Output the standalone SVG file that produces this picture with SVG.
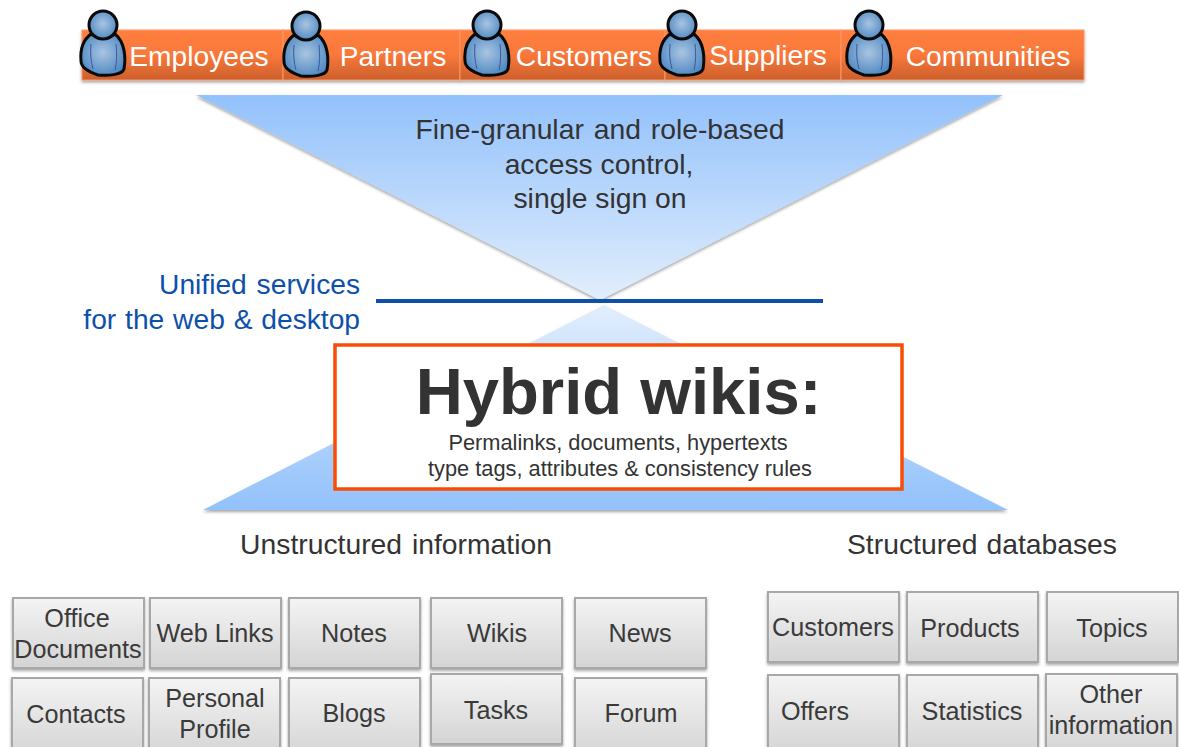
<svg xmlns="http://www.w3.org/2000/svg" width="1179" height="747" viewBox="0 0 1179 747">
<style>
text{font-family:"Liberation Sans",Arial,sans-serif;text-anchor:middle;fill:#333}
.o{fill:url(#og);stroke:#f79a6a;stroke-width:1}
.ol{fill:#fff;font-size:28.2px;stroke:none}
.b{fill:url(#bg);stroke:#a8a8a8;stroke-width:2;filter:url(#sh)}
.bt{font-size:25.2px;fill:#3a3a3a}
.m{font-size:28.3px}
.u{font-size:28.2px;fill:#0d50ac;text-anchor:end}
</style>
<defs>
<linearGradient id="og" x1="0" y1="0" x2="0" y2="1"><stop offset="0" stop-color="#ff7f40"/><stop offset=".5" stop-color="#f9783a"/><stop offset="1" stop-color="#cc5f2c"/></linearGradient>
<linearGradient id="bg" x1="0" y1="0" x2="0" y2="1"><stop offset="0" stop-color="#f4f4f4"/><stop offset="1" stop-color="#d4d4d4"/></linearGradient>
<linearGradient id="t1" gradientUnits="userSpaceOnUse" x1="0" y1="95" x2="0" y2="300"><stop offset="0" stop-color="#92c1fb"/><stop offset="1" stop-color="#e2eefd"/></linearGradient>
<linearGradient id="t2" gradientUnits="userSpaceOnUse" x1="0" y1="305" x2="0" y2="510"><stop offset="0" stop-color="#e2eefd"/><stop offset="1" stop-color="#92c1fb"/></linearGradient>
<radialGradient id="pg" cx=".5" cy=".45" r=".6"><stop offset="0" stop-color="#a9c4e2"/><stop offset="1" stop-color="#4b86c0"/></radialGradient>
<filter id="sh" x="-10%" y="-10%" width="120%" height="125%"><feDropShadow dx="0" dy="2" stdDeviation="1.5" flood-color="#000" flood-opacity=".35"/></filter>
<symbol id="person" overflow="visible">
<path d="M11 34 C3 40 0 50 1 61 C1 67 6 71 18 75 C28 76 42 75 44 69 C46 58 45 42 35 34 C28 39 18 39 11 34Z" fill="url(#pg)" stroke="#0a0a0a" stroke-width="3"/>
<path d="M11 44 C10 53 11 62 13 69 M36 44 C37 53 37 62 35 70" fill="none" stroke="#3b5a9a" stroke-width="1"/>
<circle cx="23" cy="25" r="14" fill="url(#pg)" stroke="#0a0a0a" stroke-width="3"/>
</symbol>
</defs>
<g id="funnel-top"><polygon points="196,95 1003,95 600,300" fill="url(#t1)" filter="url(#sh)"/></g>
<g id="funnel-bottom"><polygon points="604,305 1008,510 203,510" fill="url(#t2)" filter="url(#sh)"/></g>
<g id="bar" filter="url(#sh)">
<rect class="o" x="82" y="30" width="201" height="50"/>
<rect class="o" x="283" y="30" width="177" height="50"/>
<rect class="o" x="460" y="30" width="205" height="50"/>
<rect class="o" x="665" y="30" width="176" height="50"/>
<rect class="o" x="841" y="30" width="243" height="50"/>
</g>
<g id="employees"><use href="#person" x="80" y="0"/><text class="ol" x="199" y="66">Employees</text></g>
<g id="partners"><use href="#person" x="283" y="1"/><text class="ol" x="393" y="66">Partners</text></g>
<g id="customers-role"><use href="#person" x="464" y="0"/><text class="ol" x="584" y="66">Customers</text></g>
<g id="suppliers"><use href="#person" x="659" y="0"/><text class="ol" x="768" y="65">Suppliers</text></g>
<g id="communities"><use href="#person" x="846" y="0"/><text class="ol" x="988" y="66">Communities</text></g>
<g id="access"><text class="m" x="600" y="139" word-spacing="2">Fine-granular and role-based</text><text class="m" x="599" y="174">access control,</text><text class="m" x="600" y="208">single sign on</text></g>
<g id="connectors"><line x1="376" y1="301" x2="823" y2="301" stroke="#0d50ac" stroke-width="4"/></g>
<g id="unified"><text class="u" x="360" y="294" word-spacing="2">Unified services</text><text class="u" x="360" y="329" word-spacing="1">for the web &amp; desktop</text></g>
<g id="hybrid"><rect x="335" y="345" width="567" height="144" fill="#fff" stroke="#f94d05" stroke-width="3.5"/>
<text x="618.5" y="414" font-size="65.2" font-weight="bold">Hybrid wikis:</text>
<text x="618" y="450" font-size="21.8" fill="#444">Permalinks, documents, hypertexts</text>
<text x="620" y="476" font-size="21.8" fill="#444">type tags, attributes &amp; consistency rules</text></g>
<g id="labels"><text class="m" x="396" y="554" word-spacing="2">Unstructured information</text><text class="m" x="982" y="554" word-spacing="1">Structured databases</text></g>
<g id="office"><rect class="b" x="13" y="598" width="131" height="70"/><text class="bt" x="77" y="627">Office</text><text class="bt" x="78" y="658">Documents</text></g>
<g id="weblinks"><rect class="b" x="150" y="598" width="131" height="70"/><text class="bt" x="215" y="642">Web Links</text></g>
<g id="notes"><rect class="b" x="289" y="598" width="131" height="70"/><text class="bt" x="354" y="642">Notes</text></g>
<g id="wikis"><rect class="b" x="431" y="598" width="131" height="70"/><text class="bt" x="497" y="642">Wikis</text></g>
<g id="news"><rect class="b" x="575" y="598" width="131" height="70"/><text class="bt" x="640" y="642">News</text></g>
<g id="contacts"><rect class="b" x="12" y="678" width="131" height="80"/><text class="bt" x="76" y="723">Contacts</text></g>
<g id="profile"><rect class="b" x="149" y="678" width="131" height="80"/><text class="bt" x="215" y="707">Personal</text><text class="bt" x="215" y="738">Profile</text></g>
<g id="blogs"><rect class="b" x="289" y="678" width="131" height="80"/><text class="bt" x="354" y="722">Blogs</text></g>
<g id="tasks"><rect class="b" x="431" y="674" width="131" height="70"/><text class="bt" x="496" y="719">Tasks</text></g>
<g id="forum"><rect class="b" x="575" y="678" width="131" height="80"/><text class="bt" x="641" y="722">Forum</text></g>
<g id="customers"><rect class="b" x="768" y="592" width="131" height="70"/><text class="bt" x="833" y="636">Customers</text></g>
<g id="products"><rect class="b" x="907" y="592" width="131" height="70"/><text class="bt" x="970" y="637">Products</text></g>
<g id="topics"><rect class="b" x="1047" y="592" width="131" height="70"/><text class="bt" x="1112" y="637">Topics</text></g>
<g id="offers"><rect class="b" x="768" y="675" width="131" height="80"/><text class="bt" x="815" y="720">Offers</text></g>
<g id="statistics"><rect class="b" x="907" y="675" width="131" height="80"/><text class="bt" x="972" y="720">Statistics</text></g>
<g id="other"><rect class="b" x="1046" y="674" width="131" height="80"/><text class="bt" x="1111" y="703">Other</text><text class="bt" x="1111" y="734">information</text></g>
</svg>
